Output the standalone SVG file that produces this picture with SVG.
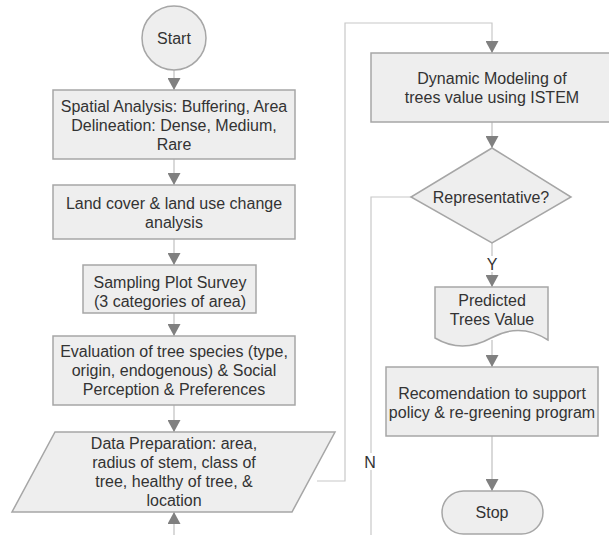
<svg xmlns="http://www.w3.org/2000/svg" width="609" height="535" viewBox="0 0 609 535">
<defs>
<style>
.shape{fill:#eeeeee;stroke:#a6a6a6;stroke-width:1.5}
.conn{fill:none;stroke:#cccccc;stroke-width:1.5}
.loop{fill:none;stroke:#c8c8c8;stroke-width:1.2}
text{font-family:"Liberation Sans",Arial,sans-serif;font-size:16px;fill:#333333;text-anchor:middle}
</style>
<marker id="arr" markerUnits="userSpaceOnUse" markerWidth="13" markerHeight="13" refX="12" refY="6.5" orient="auto">
<path d="M0,0 L12,6.5 L0,13 z" fill="#808080"/>
</marker>
</defs>
<rect width="609" height="535" fill="#ffffff"/>
<g id="connectors">
<line class="conn" x1="174" y1="70" x2="174" y2="90" marker-end="url(#arr)"/>
<line class="conn" x1="174" y1="159" x2="174" y2="185" marker-end="url(#arr)"/>
<line class="conn" x1="174" y1="239" x2="174" y2="265" marker-end="url(#arr)"/>
<line class="conn" x1="174" y1="313" x2="174" y2="336" marker-end="url(#arr)"/>
<line class="conn" x1="174" y1="405" x2="174" y2="432" marker-end="url(#arr)"/>
<line class="conn" x1="174" y1="535" x2="174" y2="512" marker-end="url(#arr)"/>
<polyline class="loop" points="317,481 345,481 345,23 492,23 492,53" marker-end="url(#arr)"/>
<line class="conn" x1="492" y1="122" x2="492" y2="148" marker-end="url(#arr)"/>
<line class="conn" x1="492" y1="243" x2="492" y2="287" marker-end="url(#arr)"/>
<polyline class="loop" points="411,197 371,197 371,535"/>
<line class="conn" x1="492" y1="340" x2="492" y2="367" marker-end="url(#arr)"/>
<line class="conn" x1="492" y1="436" x2="492" y2="491" marker-end="url(#arr)"/>
<rect x="484" y="256" width="16" height="16" fill="#ffffff"/>
<text x="492" y="270">Y</text>
<rect x="362" y="453" width="17" height="17" fill="#ffffff"/>
<text x="370" y="468">N</text>
</g>
<g id="start">
<circle class="shape" cx="174" cy="38" r="32"/>
<text x="174" y="43.5">Start</text>
</g>
<g id="spatial">
<rect class="shape" x="53" y="90" width="242" height="69"/>
<text x="174" y="111.5">Spatial Analysis: Buffering, Area</text>
<text x="174" y="130.5">Delineation: Dense, Medium,</text>
<text x="174" y="149.5">Rare</text>
</g>
<g id="landcover">
<rect class="shape" x="53" y="185" width="242" height="54"/>
<text x="174" y="208.5">Land cover &amp; land use change</text>
<text x="174" y="227.5">analysis</text>
</g>
<g id="sampling">
<rect class="shape" x="83" y="265" width="173" height="48"/>
<text x="170" y="287.5">Sampling Plot Survey</text>
<text x="170" y="306.5">(3 categories of area)</text>
</g>
<g id="evaluation">
<rect class="shape" x="53" y="336" width="242" height="69"/>
<text x="174" y="357">Evaluation of tree species (type,</text>
<text x="174" y="376">origin, endogenous) &amp; Social</text>
<text x="174" y="395">Perception &amp; Preferences</text>
</g>
<g id="dataprep">
<polygon class="shape" points="55,432 335,432 292,512 12,512"/>
<text x="174" y="448.5">Data Preparation: area,</text>
<text x="174" y="467.5">radius of stem, class of</text>
<text x="174" y="486.5">tree, healthy of tree, &amp;</text>
<text x="174" y="505.5">location</text>
</g>
<g id="dynamic">
<rect class="shape" x="371" y="53" width="240" height="69"/>
<text x="492" y="83.5">Dynamic Modeling of</text>
<text x="492" y="102.5">trees value using ISTEM</text>
</g>
<g id="representative">
<polygon class="shape" points="492,148 571,197 492,243 411,197"/>
<text x="491" y="202.5">Representative?</text>
</g>
<g id="predicted">
<path class="shape" d="M435,287 H548 V340 Q520,322 491,338 T435,338 Z"/>
<text x="492" y="305.5">Predicted</text>
<text x="492" y="324.5">Trees Value</text>
</g>
<g id="recommendation">
<rect class="shape" x="386" y="367" width="212" height="69"/>
<text x="492" y="398.5">Recomendation to support</text>
<text x="492" y="417.5">policy &amp; re-greening program</text>
</g>
<g id="stop">
<rect class="shape" x="442" y="491" width="101" height="43" rx="21.5" ry="21.5"/>
<text x="492" y="517.5">Stop</text>
</g>
</svg>
